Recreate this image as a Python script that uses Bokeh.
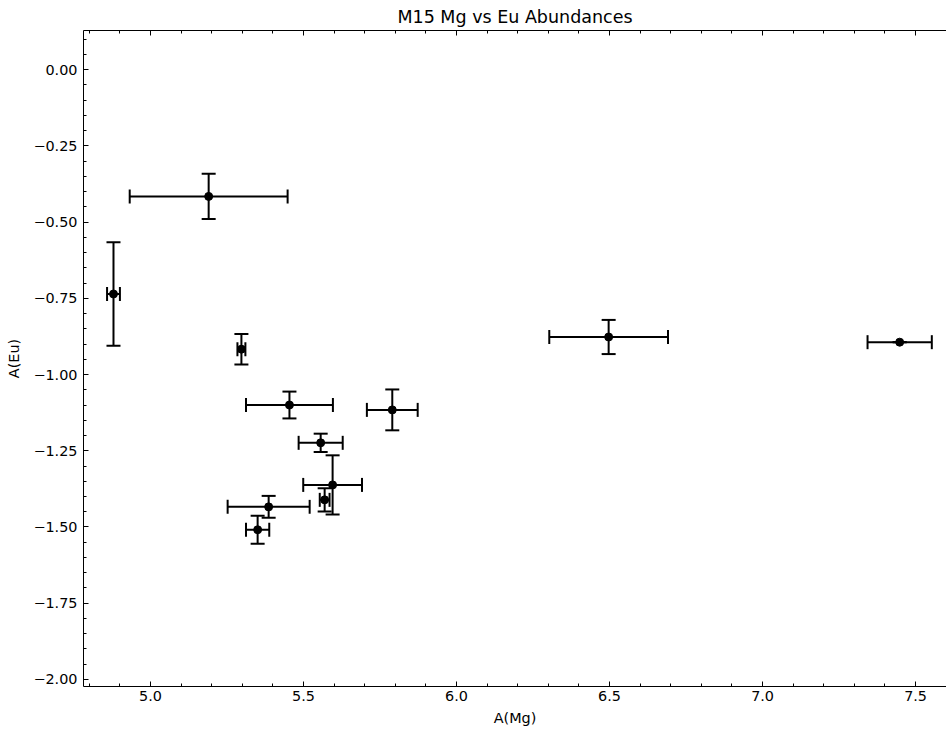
from bokeh.plotting import figure
from bokeh.models import (ColumnDataSource, Whisker, TeeHead, CustomJSTickFormatter,
                          Range1d, SingleIntervalTicker, LinearAxis)
from bokeh.embed import file_html
from bokeh.resources import INLINE

title = "M15 Mg vs Eu Abundances"
x_label = "A(Mg)"
y_label = "A(Eu)"

a_mg = [5.19, 4.879, 5.297, 5.454, 5.79, 6.497, 7.448, 5.556, 5.595, 5.569, 5.386, 5.35]
a_mg_err = [0.258, 0.021, 0.013, 0.142, 0.083, 0.194, 0.105, 0.072, 0.096, 0.016, 0.134, 0.038]
a_eu = [-0.416, -0.736, -0.917, -1.10, -1.116, -0.877, -0.894, -1.224, -1.362, -1.411, -1.434, -1.509]
a_eu_err = [0.074, 0.17, 0.05, 0.044, 0.067, 0.056, 0.0, 0.03, 0.097, 0.038, 0.036, 0.046]

src = ColumnDataSource(dict(
    x=a_mg, y=a_eu,
    xl=[v - e for v, e in zip(a_mg, a_mg_err)],
    xu=[v + e for v, e in zip(a_mg, a_mg_err)],
    yl=[v - e for v, e in zip(a_eu, a_eu_err)],
    yu=[v + e for v, e in zip(a_eu, a_eu_err)],
))

FONT = "DejaVu Sans"

p = figure(width=946, height=732, output_backend="svg", toolbar_location=None,
           x_range=Range1d(4.781, 7.601), y_range=Range1d(-2.023, 0.128),
           min_border_left=83, min_border_right=0, min_border_top=29, min_border_bottom=46)

p.title.text = title
p.title.align = "center"
p.title.text_font = FONT
p.title.text_font_size = "17.5px"
p.title.text_font_style = "normal"
p.title.text_color = "black"
p.title.standoff = 8

p.xgrid.visible = False
p.ygrid.visible = False
p.outline_line_color = None
p.background_fill_color = "white"
p.border_fill_color = "white"

p.xaxis.ticker = SingleIntervalTicker(interval=0.5, num_minor_ticks=5)
p.yaxis.ticker = SingleIntervalTicker(interval=0.25, num_minor_ticks=5)

for ax in (p.xaxis[0], p.yaxis[0]):
    ax.major_tick_in = 5
    ax.major_tick_out = 0
    ax.minor_tick_in = 3
    ax.minor_tick_out = 0
    ax.major_tick_line_color = "black"
    ax.minor_tick_line_color = "black"
    ax.axis_line_color = "black"
    ax.major_label_text_font = FONT
    ax.major_label_text_font_size = "14.4px"
    ax.major_label_text_color = "black"
    ax.axis_label_text_font = FONT
    ax.axis_label_text_font_size = "14.4px"
    ax.axis_label_text_font_style = "normal"
    ax.axis_label_text_color = "black"

p.xaxis.axis_label = x_label
p.yaxis.axis_label = y_label
p.xaxis.major_label_standoff = 4
p.yaxis.major_label_standoff = 6
p.xaxis.axis_label_standoff = 6
p.yaxis.axis_label_standoff = 8

p.xaxis.formatter = CustomJSTickFormatter(code="return tick.toFixed(1).replace('-', '\u2212');")
p.yaxis.formatter = CustomJSTickFormatter(code="return tick.toFixed(2).replace('-', '\u2212');")

top_axis = LinearAxis(ticker=SingleIntervalTicker(interval=0.5, num_minor_ticks=5),
                      major_tick_in=5, major_tick_out=0, minor_tick_in=3, minor_tick_out=0,
                      major_tick_line_color="black", minor_tick_line_color="black",
                      axis_line_color="black", major_label_text_font_size="0px",
                      major_label_standoff=0,
                      formatter=CustomJSTickFormatter(code="return '';"))
p.add_layout(top_axis, "above")

wx = Whisker(source=src, base="y", lower="xl", upper="xu", dimension="width",
             line_color="black", line_width=2,
             upper_head=TeeHead(size=14, line_width=2, line_color="black"),
             lower_head=TeeHead(size=14, line_width=2, line_color="black"))
wy = Whisker(source=src, base="x", lower="yl", upper="yu", dimension="height",
             line_color="black", line_width=2,
             upper_head=TeeHead(size=14, line_width=2, line_color="black"),
             lower_head=TeeHead(size=14, line_width=2, line_color="black"))
p.add_layout(wx)
p.add_layout(wy)

p.scatter("x", "y", source=src, size=8, color="black", marker="circle")

open("out.html", "w").write(file_html(p, INLINE))
